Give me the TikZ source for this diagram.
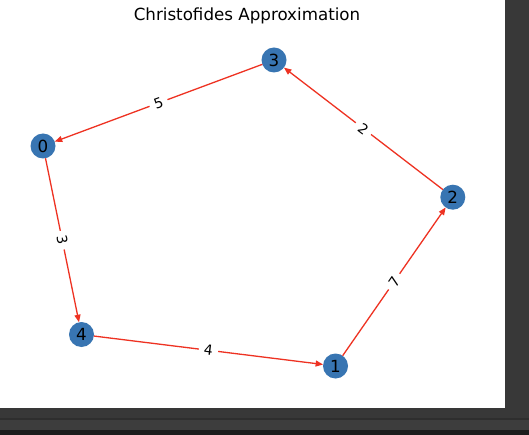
\documentclass[tikz,border=0pt]{standalone}
\usepackage{fontspec}
\setmainfont{DejaVu Sans}
\usetikzlibrary{arrows.meta, backgrounds}
\definecolor{nodeblue}{RGB}{56,117,178}
\definecolor{edgered}{RGB}{238,50,34}
\definecolor{framegray}{RGB}{56,56,56}

\begin{document}
\begin{tikzpicture}[x=1pt, y=-1pt]
            \useasboundingbox (0,0) rectangle (529,435);
            % window around the figure
            \fill[framegray] (0,0) rectangle (529,435);
            \fill[white] (0,0) rectangle (505,408);
            \fill[black!82] (0,417.5) rectangle (529,419.5);
            \fill[black!76] (0,419.5) rectangle (529,430);
            \fill[black!89] (0,430) rectangle (529,435);

            \node[anchor=base, inner sep=0pt] (title) at (247,21) {\fontsize{16.7}{20}\selectfont Christofides Approximation};

            \begin{scope}[every node/.style={circle, fill=nodeblue, minimum size=25pt, inner sep=0pt, outer sep=0pt, font=\fontsize{16.7}{20}\selectfont}]
              \node (n0) at (43,146) {0};
                \node (n1) at (335.5,366) {1};
                \node (n2) at (452.8,197.2) {2};
                \node (n3) at (274,60) {3};
                \node (n4) at (81.5,334.5) {4};
            \end{scope}

            \begin{scope}[>={Triangle[length=7.5pt,width=6pt]},
                          every node/.style={fill=white, inner xsep=5pt, inner ysep=2pt, sloped, font=\fontsize{14}{16}\selectfont},
                          every edge/.style={draw=edgered, line width=1.3pt}]
                \path[->] (n3) edge node {5} (n0);
                \path[->] (n0) edge node {3} (n4);
                \path[->] (n4) edge node {4} (n1);
                \path[->] (n1) edge node {7} (n2);
                \path[->] (n2) edge node {2} (n3);
            \end{scope}

            \end{tikzpicture}
\end{document}
